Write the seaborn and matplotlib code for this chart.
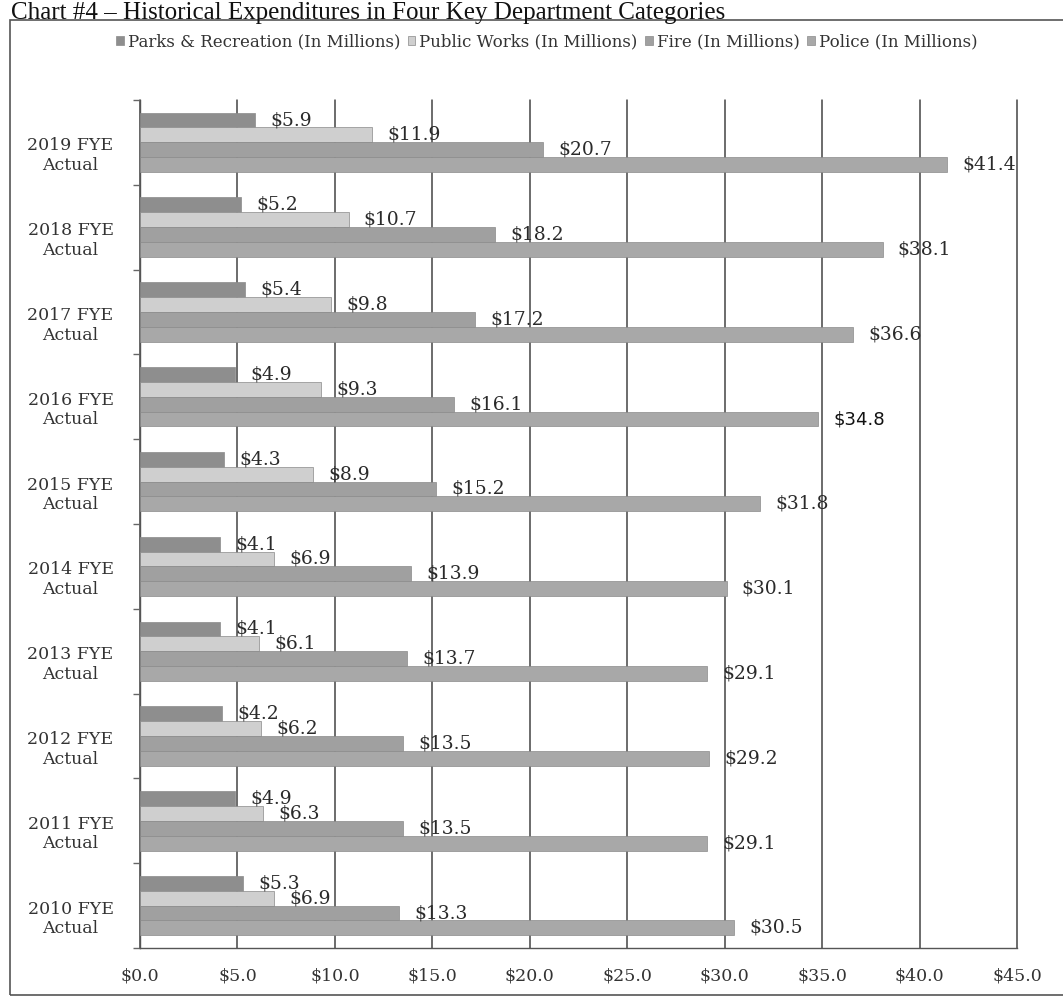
import pandas as pd
import matplotlib.pyplot as plt
import seaborn as sns
from matplotlib.patches import Rectangle
from matplotlib.transforms import ScaledTranslation

# values (in millions)
years = ["2019 FYE\nActual", "2018 FYE\nActual", "2017 FYE\nActual", "2016 FYE\nActual",
         "2015 FYE\nActual", "2014 FYE\nActual", "2013 FYE\nActual", "2012 FYE\nActual",
         "2011 FYE\nActual", "2010 FYE\nActual"]
parks = [5.9, 5.2, 5.4, 4.9, 4.3, 4.1, 4.1, 4.2, 4.9, 5.3]
public_works = [11.9, 10.7, 9.8, 9.3, 8.9, 6.9, 6.1, 6.2, 6.3, 6.9]
fire = [20.7, 18.2, 17.2, 16.1, 15.2, 13.9, 13.7, 13.5, 13.5, 13.3]
police = [41.4, 38.1, 36.6, 34.8, 31.8, 30.1, 29.1, 29.2, 29.1, 30.5]
series = ["Parks & Recreation (In Millions)", "Public Works (In Millions)",
          "Fire (In Millions)", "Police (In Millions)"]
x_ticks = [0, 5, 10, 15, 20, 25, 30, 35, 40, 45]

df = pd.DataFrame({"Year": years, series[0]: parks, series[1]: public_works,
                   series[2]: fire, series[3]: police})
long_df = df.melt(id_vars="Year", var_name="Dept", value_name="Amount")

sns.set_style("white")
plt.rcParams["font.family"] = ["DejaVu Serif"]

fig = plt.figure(figsize=(10.63, 9.99), dpi=100)
ax = fig.add_axes([0.1317, 0.051, 0.825, 0.849])

colors = ["#8e8e8e", "#cfcfcf", "#a0a0a0", "#a8a8a8"]
sns.barplot(data=long_df, y="Year", x="Amount", hue="Dept", order=years,
            hue_order=series, palette=colors, orient="h", width=0.7,
            edgecolor="#8a8a8a", linewidth=0.5, ax=ax, zorder=3)

# labels next to each bar
up = ScaledTranslation(0, 2 / 100, fig.dpi_scale_trans)
for i, cont in enumerate(ax.containers):
    texts = ax.bar_label(cont, labels=[f"${v:.1f}" for v in cont.datavalues],
                         padding=11, fontsize=13.5, color="#2a2a2a")
    for t in texts:
        t.set_transform(t.get_transform() + up)
    if i == 3:
        # the 2016 police label is set in a different (sans) face in the scan
        texts[3].set_family("DejaVu Sans")
        texts[3].set_fontsize(13)
        texts[3].set_color("#111111")

ax.set_xlim(0, 45)
ax.set_ylim(len(years) - 0.5, -0.5)
ax.set_xticks(x_ticks)
ax.set_xticklabels([f"${t:.1f}" for t in x_ticks], fontsize=12.5, color="#333333")
ax.tick_params(axis="x", length=0, pad=14)
ax.set_yticks([i - 0.5 for i in range(len(years) + 1)], minor=True)
ax.tick_params(axis="y", which="minor", length=5, width=1, color="#666666", left=True)
ax.tick_params(axis="y", which="major", length=0, pad=50)
down = ScaledTranslation(0, -10 / 100, fig.dpi_scale_trans)
for lbl in ax.get_yticklabels():
    lbl.set_fontsize(12.5)
    lbl.set_color("#333333")
    lbl.set_horizontalalignment("center")
    lbl.set_transform(lbl.get_transform() + down)
ax.set_xlabel("")
ax.set_ylabel("")
ax.grid(axis="x", color="#444444", linewidth=1.1, zorder=0, clip_on=False)
ax.set_axisbelow(True)
for s in ["top", "right"]:
    ax.spines[s].set_visible(False)
for s in ["left", "bottom"]:
    ax.spines[s].set_color("#555555")
    ax.spines[s].set_linewidth(1.0)

handles, labs = ax.get_legend_handles_labels()
ax.legend(handles, labs, loc="center", bbox_to_anchor=(0.464, 1.068), ncol=4,
          frameon=False, fontsize=12, handlelength=0.45, handleheight=0.45,
          handletextpad=0.25, columnspacing=0.45, labelcolor="#333333")

# outer frame and title of the scanned page
fig.patches.append(Rectangle((0.009, 0.004), 1.0, 0.976, transform=fig.transFigure,
                             fill=False, edgecolor="#555555", linewidth=1.2))
fig.text(0.01, 1 - 19 / 999, "Chart #4 \u2013 Historical Expenditures in Four Key Department Categories",
         fontsize=18, va="baseline", ha="left", color="#111111", family="Liberation Serif")

fig.savefig("out.png", dpi=100)
